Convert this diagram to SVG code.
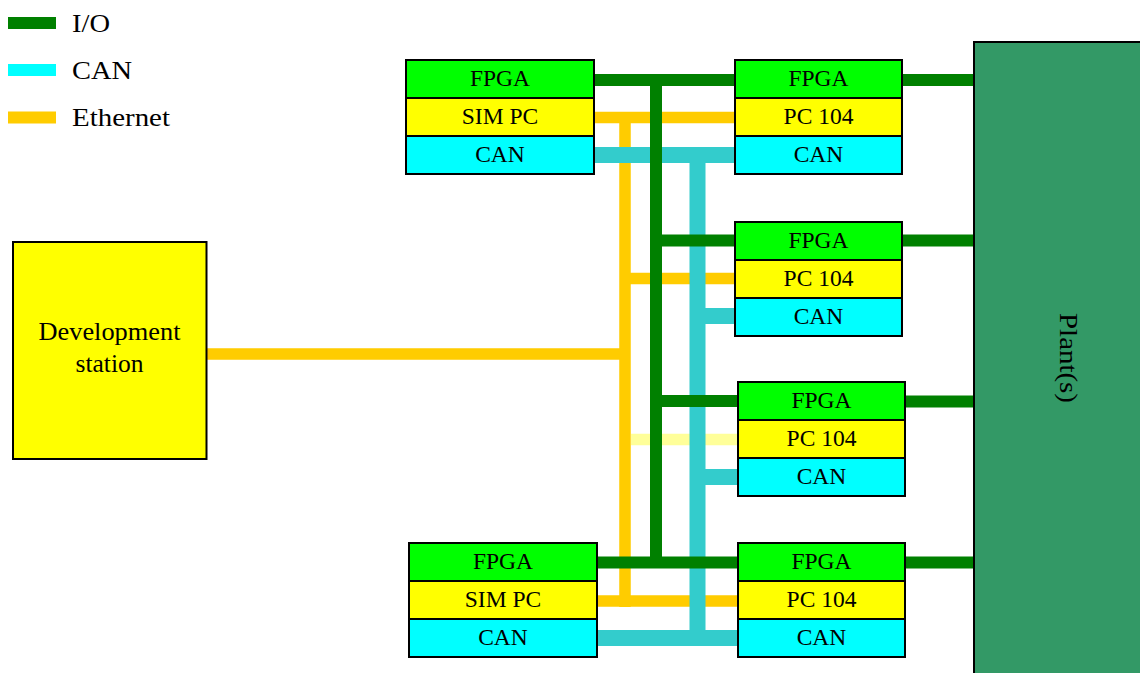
<svg xmlns="http://www.w3.org/2000/svg" width="1140" height="673" viewBox="0 0 1140 673">
<style>
text{font-family:"Liberation Serif","Times New Roman",serif;fill:#000}
.lg{font-size:26px}
.nt{font-size:23.5px;text-anchor:middle}
.box{stroke:#000;stroke-width:2}
.fpga{fill:#00ff00}
.pc{fill:#ffff00}
.can{fill:#00ffff}
.eth{stroke:#ffcc00;stroke-width:11.5;fill:none}
.pale{stroke:#ffff99;stroke-width:11.5;fill:none}
.cn{stroke:#33cccc;stroke-width:16;fill:none}
.io{stroke:#008000;stroke-width:12;fill:none}
</style>
<g id="legend">
<rect x="8" y="17" width="48" height="12" fill="#008000"/>
<text class="lg" x="72" y="31.5" textLength="38" lengthAdjust="spacingAndGlyphs">I/O</text>
<rect x="8" y="64" width="48" height="12" fill="#00ffff"/>
<text class="lg" x="72" y="79" textLength="60" lengthAdjust="spacingAndGlyphs">CAN</text>
<rect x="8" y="111.5" width="48" height="12" fill="#ffcc00"/>
<text class="lg" x="72" y="126" textLength="98" lengthAdjust="spacingAndGlyphs">Ethernet</text>
</g>
<g id="connectors">
<path class="eth" d="M594 117.5H735M625 112V607M625 278.5H735M597 601H738M206.7 354H625"/>
<path class="pale" d="M631 439.5H738"/>
<path class="cn" d="M594 155H735M697.5 147V646M697.5 316H735M697.5 477H738M597 638H738"/>
<path class="io" d="M594 80H735M656 80V562.5M656 240.5H735M656 401H738M597 562.5H738M902 80H974M902 240.5H974M905 401.5H974M905 562.5H974"/>
</g>
<g id="dev-station">
<rect class="box" x="13" y="242" width="193.5" height="217" fill="#ffff00"/>
<text x="109.5" y="340" font-size="25.5" text-anchor="middle" textLength="142" lengthAdjust="spacingAndGlyphs">Development</text>
<text x="109.5" y="372" font-size="25.5" text-anchor="middle">station</text>
</g>
<g id="plant">
<rect x="974" y="42" width="180" height="640" fill="#339966" stroke="#000" stroke-width="2"/>
<text transform="translate(1060,358) rotate(90)" font-size="26" text-anchor="middle" textLength="90" lengthAdjust="spacingAndGlyphs">Plant(s)</text>
</g>
<g id="sim-top">
<rect class="box fpga" x="406" y="60" width="188" height="38"/>
<rect class="box pc" x="406" y="98" width="188" height="38"/>
<rect class="box can" x="406" y="136" width="188" height="38"/>
<text class="nt" x="500" y="86">FPGA</text>
<text class="nt" x="500" y="124">SIM PC</text>
<text class="nt" x="500" y="162">CAN</text>
</g>
<g id="sim-bottom">
<rect class="box fpga" x="409" y="543" width="188" height="38"/>
<rect class="box pc" x="409" y="581" width="188" height="38"/>
<rect class="box can" x="409" y="619" width="188" height="38"/>
<text class="nt" x="503" y="569">FPGA</text>
<text class="nt" x="503" y="607">SIM PC</text>
<text class="nt" x="503" y="645">CAN</text>
</g>
<g id="target-1">
<rect class="box fpga" x="735" y="60" width="167" height="38"/>
<rect class="box pc" x="735" y="98" width="167" height="38"/>
<rect class="box can" x="735" y="136" width="167" height="38"/>
<text class="nt" x="818.5" y="86">FPGA</text>
<text class="nt" x="818.5" y="124">PC 104</text>
<text class="nt" x="818.5" y="162">CAN</text>
</g>
<g id="target-2">
<rect class="box fpga" x="735" y="222" width="167" height="38"/>
<rect class="box pc" x="735" y="260" width="167" height="38"/>
<rect class="box can" x="735" y="298" width="167" height="38"/>
<text class="nt" x="818.5" y="248">FPGA</text>
<text class="nt" x="818.5" y="286">PC 104</text>
<text class="nt" x="818.5" y="324">CAN</text>
</g>
<g id="target-3">
<rect class="box fpga" x="738" y="382" width="167" height="38"/>
<rect class="box pc" x="738" y="420" width="167" height="38"/>
<rect class="box can" x="738" y="458" width="167" height="38"/>
<text class="nt" x="821.5" y="408">FPGA</text>
<text class="nt" x="821.5" y="446">PC 104</text>
<text class="nt" x="821.5" y="484">CAN</text>
</g>
<g id="target-4">
<rect class="box fpga" x="738" y="543" width="167" height="38"/>
<rect class="box pc" x="738" y="581" width="167" height="38"/>
<rect class="box can" x="738" y="619" width="167" height="38"/>
<text class="nt" x="821.5" y="569">FPGA</text>
<text class="nt" x="821.5" y="607">PC 104</text>
<text class="nt" x="821.5" y="645">CAN</text>
</g>
</svg>
